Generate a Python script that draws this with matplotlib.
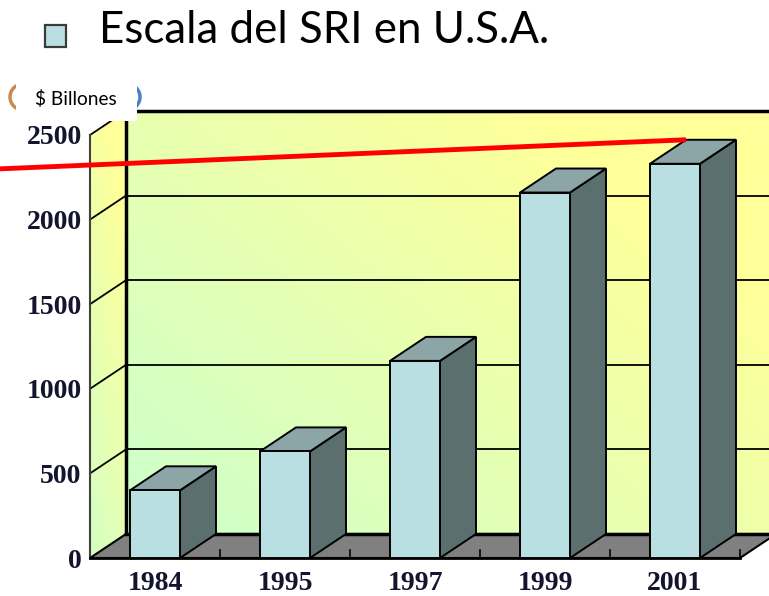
import numpy as np
import matplotlib
matplotlib.use('Agg')
import matplotlib.pyplot as plt
from matplotlib.patches import Polygon, Rectangle, Arc
from matplotlib.colors import to_rgb

# ---------------- data ----------------
categories = ['1984', '1995', '1997', '1999', '2001']
values = [400, 630, 1165, 2160, 2330]
y_ticks = [0, 500, 1000, 1500, 2000, 2500]
y_tick_labels = ['0', '500', '1000', '1500', '2000', '2500']
title_text = 'Escala del SRI en U.S.A.'
unit_text = '$ Billones'
trend_start_value = 2300   # red line value at the left edge of the slide

# ---------------- figure ----------------
W, H, DPI = 769, 596, 100
fig = plt.figure(figsize=(W / DPI, H / DPI), dpi=DPI)
fig.patch.set_facecolor('white')

PX_L, PX_R, PX_B, PX_T = 90, 740, 558, 135
ax = fig.add_axes([PX_L / W, 1 - PX_B / H, (PX_R - PX_L) / W, (PX_B - PX_T) / H])
ax.patch.set_visible(False)
for s in ax.spines.values():
    s.set_visible(False)

n = len(categories)
XMIN, XMAX = -0.5, n - 0.5
YMAX = y_ticks[-1]
px_per_x = (PX_R - PX_L) / n
px_per_y = (PX_B - PX_T) / YMAX
DX = 36 / px_per_x          # depth offset in data units
DY = 24 / px_per_y
BW = 50 / px_per_x          # bar width

green = np.array(to_rgb('#CCFFCC'))
yellow = np.array(to_rgb('#FFFF99'))


def grad_img(a, b, c0, nx=200, ny=200):
    u, v = np.meshgrid(np.linspace(0, 1, nx), np.linspace(0, 1, ny))
    t = np.clip(c0 + a * u + b * v, 0, 1)[..., None]
    return green * (1 - t) + yellow * t


# back wall
bw_poly = Polygon([(XMIN + DX, DY), (XMAX + DX, DY), (XMAX + DX, YMAX + DY), (XMIN + DX, YMAX + DY)],
                  closed=True, facecolor='none', edgecolor='none', transform=ax.transData)
ax.add_patch(bw_poly)
im = ax.imshow(grad_img(0.7, 0.55, 0.0), extent=(XMIN + DX, XMAX + DX, DY, YMAX + DY),
               origin='lower', aspect='auto', zorder=0, interpolation='bilinear')
im.set_clip_box(fig.bbox)
im.set_clip_path(bw_poly)

# left wall
lw_poly = Polygon([(XMIN, 0), (XMIN + DX, DY), (XMIN + DX, YMAX + DY), (XMIN, YMAX)],
                  closed=True, facecolor='none', edgecolor='none', transform=ax.transData)
ax.add_patch(lw_poly)
im2 = ax.imshow(grad_img(0.3, 0.7, 0.15), extent=(XMIN, XMIN + DX, 0, YMAX + DY),
                origin='lower', aspect='auto', zorder=0, interpolation='bilinear')
im2.set_clip_box(fig.bbox)
im2.set_clip_path(lw_poly)

# gridlines on back wall and left wall
for v in y_ticks[1:-1]:
    ax.plot([XMIN + DX, XMAX + DX], [v + DY, v + DY], color='black', lw=1.3, zorder=1, clip_on=False)
for v in y_ticks[1:]:
    ax.plot([XMIN, XMIN + DX], [v, v + DY], color='black', lw=1.3, zorder=1, clip_on=False)
# wall edges
ax.plot([XMIN + DX, XMAX + DX], [YMAX + DY, YMAX + DY], color='black', lw=2.5, zorder=1, clip_on=False)
ax.plot([XMIN + DX, XMIN + DX], [DY, YMAX + DY], color='black', lw=2.5, zorder=1, clip_on=False)
ax.plot([XMIN, XMIN], [0, YMAX], color='#404040', lw=1.5, zorder=1, clip_on=False)

# floor
floor = Polygon([(XMIN, 0), (XMAX, 0), (XMAX + DX, DY), (XMIN + DX, DY)], closed=True,
                facecolor='#808080', edgecolor='black', lw=1.5, zorder=2, clip_on=False)
ax.add_patch(floor)
ax.plot([XMIN + DX, XMAX + DX], [DY, DY], color='black', lw=2.5, zorder=2, clip_on=False)
ax.plot([XMIN, XMAX], [0, 0], color='black', lw=2, zorder=2, clip_on=False)
for b in np.arange(0.5, n, 1.0):
    ax.plot([b, b], [0, 8 / px_per_y], color='black', lw=1.2, zorder=2, clip_on=False)

# bars
front_c, top_c, side_c = '#B9DFE3', '#8CA6A8', '#5C6F6F'
for i, v in enumerate(values):
    x0, x1 = i - BW / 2, i + BW / 2
    side = Polygon([(x1, 0), (x1 + DX, DY), (x1 + DX, v + DY), (x1, v)], closed=True,
                   facecolor=side_c, edgecolor='black', lw=1.4, zorder=3, clip_on=False)
    top = Polygon([(x0, v), (x1, v), (x1 + DX, v + DY), (x0 + DX, v + DY)], closed=True,
                  facecolor=top_c, edgecolor='black', lw=1.4, zorder=3, clip_on=False)
    front = Rectangle((x0, 0), BW, v, facecolor=front_c, edgecolor='black', lw=1.4,
                      zorder=4, clip_on=False)
    ax.add_patch(side)
    ax.add_patch(top)
    ax.add_patch(front)

# red line
x_left = XMIN - PX_L / px_per_x
x_end = (n - 1) - BW / 2 + DX
ax.plot([x_left, x_end], [trend_start_value, values[-1] + DY], color='#FF0000', lw=3.5,
        zorder=6, clip_on=False, solid_capstyle='butt')

ax.set_xlim(XMIN, XMAX)
ax.set_ylim(0, YMAX)

# ticks
tick_font = dict(family='Liberation Serif', weight='bold', size=20)
ax.set_yticks(y_ticks)
ax.set_yticklabels(y_tick_labels, fontdict=tick_font, color='#14142E')
ax.set_xticks(range(n))
ax.set_xticklabels(categories, fontdict=tick_font, color='#14142E')
ax.tick_params(axis='y', length=0, pad=6)
ax.tick_params(axis='x', length=0, pad=9)


def fx(px):
    return px / W


def fy(py):
    return 1 - py / H


# title bullet + text
fig.patches.append(Rectangle((fx(45), fy(47)), 21 / W, 22 / H, transform=fig.transFigure,
                             facecolor='#B9DFE3', edgecolor='#3A3A3A', lw=1.6, zorder=5))
title = fig.text(fx(99), fy(43), title_text, ha='left', va='baseline', family='Lato',
                 size=30, color='black')

# unit label box with rounded outline behind
fig.patches.append(Arc((fx(23), fy(97)), 26 / W, 26 / H, theta1=90, theta2=270,
                       transform=fig.transFigure, color='#C88A50', lw=2.5, zorder=8))
fig.patches.append(Arc((fx(127), fy(97)), 26 / W, 26 / H, theta1=-90, theta2=90,
                       transform=fig.transFigure, color='#4A80C8', lw=2.5, zorder=8))
fig.patches.append(Rectangle((fx(16), fy(121)), 121 / W, 45 / H, transform=fig.transFigure,
                             facecolor='white', edgecolor='none', zorder=9))
unit = fig.text(fx(76), fy(99), unit_text, ha='center', va='center', family='Lato',
                size=14, color='black', zorder=10)

# fit text widths to reference
fig.canvas.draw()
r = fig.canvas.get_renderer()
wpx = title.get_window_extent(r).width
title.set_fontsize(30 * 449 / wpx)
wpx = unit.get_window_extent(r).width
unit.set_fontsize(14 * 82 / wpx)

fig.savefig('out.png', dpi=DPI)
